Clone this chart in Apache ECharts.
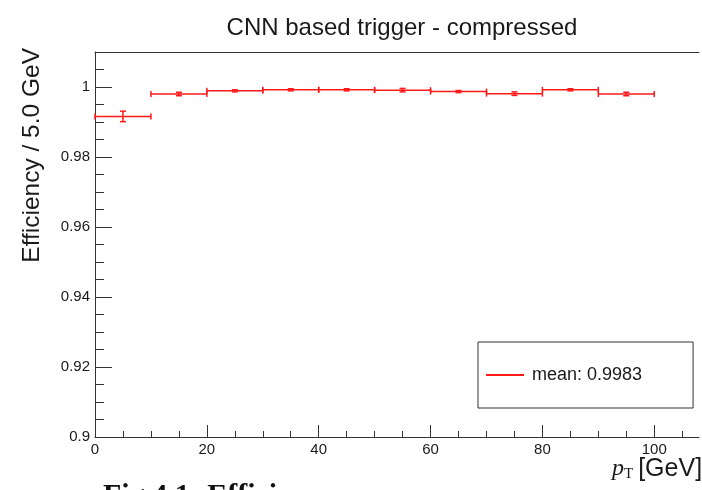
<!DOCTYPE html>
<html>
<head>
<meta charset="utf-8">
<script src="https://cdn.jsdelivr.net/npm/echarts@6/dist/echarts.min.js"></script>
<style>
html,body{margin:0;padding:0;background:#fff;}
#chart{width:702px;height:490px;}
</style>
</head>
<body>
<div id="chart"></div>
<script>
// ---- data ----
const binLow  = [0, 10, 20, 30, 40, 50, 60, 70, 80, 90];
const binHigh = [10, 20, 30, 40, 50, 60, 70, 80, 90, 100];
const efficiency = [0.9916, 0.9980, 0.9989, 0.9992, 0.9992, 0.9991, 0.9987, 0.9981, 0.9992, 0.9980];
const effError   = [0.0015, 0.0005, 0.0003, 0.0003, 0.0003, 0.0005, 0.0003, 0.0005, 0.0003, 0.0005];
const xMajorTicks = [0, 20, 40, 60, 80, 100];
const xMinorTicks = [5, 10, 15, 25, 30, 35, 45, 50, 55, 65, 70, 75, 85, 90, 95, 105];
const yMajorTicks = [0.9, 0.92, 0.94, 0.96, 0.98, 1.0];
const seriesName = 'mean: 0.9983';
const titleText = 'CNN based trigger - compressed';
const yTitle = 'Efficiency / 5.0 GeV';
const captionText = 'Fig 4.1: Efficiency';

const RED = '#ff1a1a';
const FONT = '"Liberation Sans", Arial, Helvetica, sans-serif';
const SERIF = '"Liberation Serif", "DejaVu Serif", serif';

const data = binLow.map((lo, i) => [lo, binHigh[i], efficiency[i], effError[i]]);

function renderItem(params, api) {
  const xlo = api.value(0), xhi = api.value(1), y = api.value(2), e = api.value(3);
  const xc = (xlo + xhi) / 2;
  const pL = api.coord([xlo, y]), pR = api.coord([xhi, y]);
  const pT = api.coord([xc, y + e]), pB = api.coord([xc, y - e]);
  const st = {stroke: RED, lineWidth: 1.5, fill: null};
  const h = 3, c = 3;
  const ln = (x1, y1, x2, y2) => ({type: 'line', shape: {x1, y1, x2, y2}, style: st});
  return {
    type: 'group',
    children: [
      ln(pL[0], pL[1], pR[0], pR[1]),
      ln(pL[0], pL[1] - h, pL[0], pL[1] + h),
      ln(pR[0], pR[1] - h, pR[0], pR[1] + h),
      ln(pT[0], pT[1], pB[0], pB[1]),
      ln(pT[0] - c, pT[1], pT[0] + c, pT[1]),
      ln(pB[0] - c, pB[1], pB[0] + c, pB[1])
    ]
  };
}

const chart = echarts.init(document.getElementById('chart'), null, {renderer: 'canvas'});
const axisColor = '#333';
chart.setOption({
  animation: false,
  backgroundColor: '#fff',
  grid: {left: 95, top: 52, width: 604, height: 385, show: false, containLabel: false},
  xAxis: [
    {type: 'value', min: 0, max: 108, interval: 20, position: 'bottom',
     axisLine: {show: true, lineStyle: {color: axisColor, width: 1}},
     axisTick: {show: true, inside: true, length: 12, customValues: xMajorTicks, lineStyle: {color: axisColor}},
     axisLabel: {fontFamily: FONT, fontSize: 15, color: '#1a1a1a', margin: 5, customValues: xMajorTicks,
       formatter: v => String(Math.round(v))},
     splitLine: {show: false}},
    {type: 'value', min: 0, max: 108, interval: 5, position: 'bottom',
     axisLine: {show: false},
     axisTick: {show: true, inside: true, length: 6, customValues: xMinorTicks, lineStyle: {color: axisColor}},
     axisLabel: {show: false}, splitLine: {show: false}},
    {type: 'value', min: 0, max: 108, position: 'top',
     axisLine: {show: true, lineStyle: {color: axisColor, width: 1}},
     axisTick: {show: false}, axisLabel: {show: false}, splitLine: {show: false}}
  ],
  yAxis: [
    {type: 'value', min: 0.9, max: 1.01, interval: 0.02, position: 'left',
     axisLine: {show: true, lineStyle: {color: axisColor, width: 1}},
     axisTick: {show: true, inside: true, length: 17, customValues: yMajorTicks, lineStyle: {color: axisColor}},
     axisLabel: {fontFamily: FONT, fontSize: 15, color: '#1a1a1a', margin: 5, customValues: yMajorTicks,
       formatter: v => String(+v.toFixed(2))},
     splitLine: {show: false}},
    {type: 'value', min: 0.9, max: 1.01, interval: 0.005, position: 'left',
     axisLine: {show: false},
     axisTick: {show: true, inside: true, length: 9, lineStyle: {color: axisColor}},
     axisLabel: {show: false}, splitLine: {show: false}}
  ],
  legend: {
    left: 478, top: 342,
    orient: 'vertical',
    backgroundColor: '#fff',
    borderColor: axisColor, borderWidth: 1,
    padding: [24, 51, 24, 8],
    itemWidth: 38, itemHeight: 2,
    textStyle: {fontFamily: FONT, fontSize: 18, color: '#1a1a1a', padding: [0, 0, 0, 3]},
    data: [{name: seriesName, icon: 'rect', itemStyle: {color: RED}}]
  },
  series: [{
    name: seriesName,
    type: 'custom',
    xAxisIndex: 0, yAxisIndex: 0,
    renderItem: renderItem,
    itemStyle: {color: RED},
    encode: {x: [0, 1], y: 2},
    data: data,
    z: 5
  }],
  graphic: [
    {type: 'text', x: 402, y: 28, style: {text: titleText, font: '24px ' + FONT, fill: '#1a1a1a', align: 'center', verticalAlign: 'middle'}},
    {type: 'text', x: 32, y: 48, rotation: Math.PI / 2, style: {text: yTitle, font: '24.5px ' + FONT, fill: '#1a1a1a', align: 'right', verticalAlign: 'middle'}},
    {type: 'text', x: 612, y: 469, style: {
      text: '{p|p}{t|T}{g|[GeV]}', verticalAlign: 'middle', align: 'left',
      rich: {
        p: {fontFamily: SERIF, fontStyle: 'italic', fontSize: 24, fill: '#1a1a1a'},
        t: {fontFamily: SERIF, fontSize: 15, fill: '#1a1a1a', padding: [10, 0, 0, 0]},
        g: {fontFamily: FONT, fontSize: 25, fill: '#1a1a1a', padding: [0, 0, 0, 5]}
      }}},
    {type: 'text', x: 103, y: 481, style: {text: captionText, font: 'bold 30px ' + SERIF, fill: '#111', align: 'left', verticalAlign: 'top'}}
  ]
});
</script>
</body>
</html>
